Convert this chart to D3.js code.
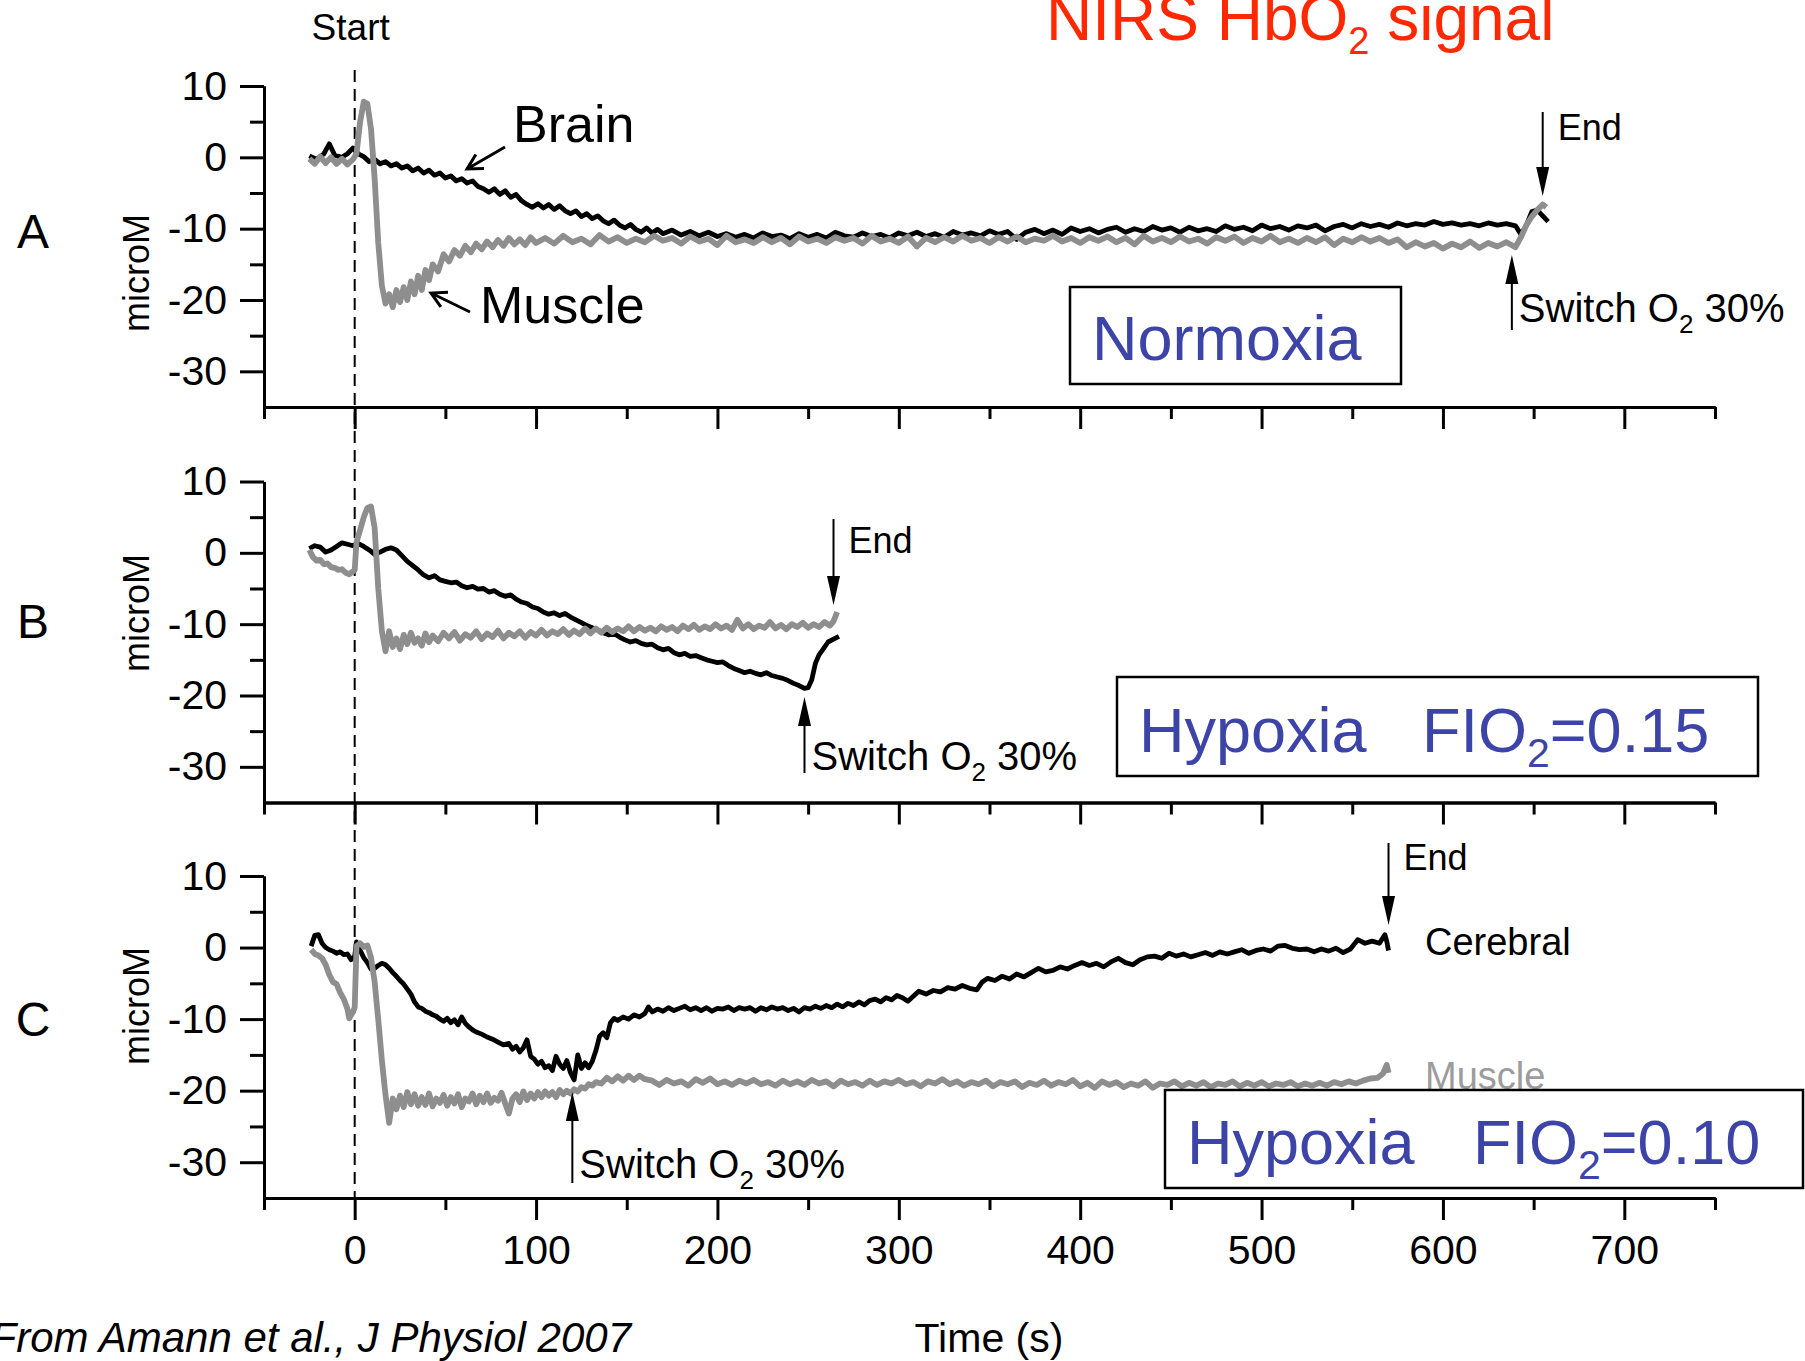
<!DOCTYPE html>
<html>
<head>
<meta charset="utf-8">
<script src="https://cdn.jsdelivr.net/npm/d3@7"></script>
<style>
body { margin: 0; background: #fff; }
text { font-family: 'Liberation Sans', Arial, Helvetica, sans-serif; }
</style>
</head>
<body>
<script>
// TICKS
const xMajor = [0, 100, 200, 300, 400, 500, 600, 700];
const xMinor = [-50, 50, 150, 250, 350, 450, 550, 650, 750];
const yMajor = [10, 0, -10, -20, -30];
const yMinor = [5, -5, -15, -25];

// PANEL A - NORMOXIA  [time (s), microM]
const brainA = [[-25,0.2],[-21,-0.3],[-17,0.5],[-14,1.9],[-11,0.3],[-7,0.0],[-4,0.5],[-1,1.3],[2,0.5],[5,0.1],[8,-0.6],[11,-0.3],[14,-0.9],[17,-0.6],[20,-1.2],[23,-0.9],[26,-1.5],[29,-1.2],[32,-1.9],[35,-1.5],[38,-2.2],[41,-1.8],[44,-2.5],[47,-2.2],[50,-2.9],[53,-2.6],[56,-3.3],[59,-3.0],[62,-3.6],[65,-3.3],[68,-4.1],[71,-4.4],[74,-4.9],[77,-4.4],[80,-5.2],[83,-4.7],[86,-5.6],[89,-5.2],[92,-6.1],[95,-6.6],[98,-7.0],[101,-6.5],[104,-7.1],[107,-6.6],[110,-7.3],[113,-6.8],[116,-7.5],[119,-7.9],[122,-7.5],[125,-8.3],[128,-7.9],[131,-8.6],[134,-8.2],[137,-8.9],[140,-9.3],[143,-8.8],[146,-9.5],[149,-9.9],[152,-9.4],[155,-10.1],[158,-10.5],[161,-9.9],[164,-10.6],[167,-10.1],[170,-10.7],[175,-10.2],[180,-10.9],[185,-10.4],[190,-11.0],[195,-10.5],[200,-11.1],
  [205,-10.7],[210,-11.2],[215,-10.8],[220,-11.3],[225,-10.6],[230,-11.1],[235,-10.9],[240,-11.4],[245,-10.7],[250,-11.2],[255,-10.8],[260,-11.3],[265,-10.5],[270,-11.0],[275,-11.2],[280,-10.6],[285,-11.1],[290,-10.8],[295,-11.3],[300,-10.6],[305,-11.0],[310,-10.5],[315,-11.1],[320,-10.7],[325,-11.2],[330,-10.4],[335,-10.9],[340,-10.6],[345,-11.0],[350,-10.3],[355,-10.8],[360,-10.4],[365,-11.5],[370,-10.5],[375,-10.1],[380,-10.7],[385,-10.2],[390,-10.8],[395,-9.9],[400,-10.4],[405,-10.0],[410,-10.6],[415,-10.1],[420,-9.8],[425,-10.5],[430,-10.0],[435,-10.4],[440,-9.7],[445,-10.2],[450,-9.9],[455,-10.5],[460,-9.8],[465,-10.3],[470,-10.0],[475,-10.4],[480,-9.6],[485,-10.1],[490,-9.8],[495,-10.3],[500,-9.5],[505,-10.0],[510,-9.7],[515,-10.2],[520,-9.6],[525,-9.9],[530,-9.5],[535,-10.3],[540,-9.7],[545,-9.4],[550,-9.9],[555,-9.3],[560,-9.7],[565,-9.4],[570,-9.8],[575,-9.2],[580,-9.6],[585,-9.3],[590,-9.5],[595,-9.0],[600,-9.4],[605,-9.2],[610,-9.5],[615,-9.3],[620,-9.6],[625,-9.2],[630,-9.5],[635,-9.3],[640,-9.6],[643,-10.8],[646,-9.5],[649,-7.6],[652,-7.4],[655,-8.2],[658,-9.0]];

const muscleA = [[-25,-0.2],[-22,-0.9],[-19,0.1],[-16,-0.8],[-13,0.0],[-10,-0.9],[-7,-0.2],[-4,-1.0],[-1,-0.3],[1,0.5],[3,5.0],[5,7.8],[7,7.5],[9,4.0],[11,-3.0],[13,-12.0],[15,-18.0],[17,-20.5],[19,-19.2],[21,-21.0],[23,-18.6],[25,-20.3],[27,-18.2],[29,-20.0],[31,-17.4],[33,-19.2],[35,-16.6],[37,-18.6],[39,-15.8],[41,-17.2],[43,-15.0],[46,-16.0],[49,-13.6],[52,-14.6],[55,-13.0],[58,-13.8],[61,-12.4],[64,-13.3],[67,-12.1],[70,-12.9],[73,-11.8],[76,-12.6],[79,-11.6],[82,-12.4],[85,-11.3],[88,-12.2],[91,-11.5],[94,-12.3],[97,-11.2],[100,-12.0],
  [105,-11.3],[110,-12.1],[115,-11.0],[120,-11.9],[125,-11.4],[130,-12.2],[135,-10.9],[140,-11.8],[145,-11.2],[150,-12.0],[155,-11.4],[160,-11.9],[165,-11.0],[170,-11.7],[175,-11.3],[180,-12.1],[185,-11.1],[190,-11.8],[195,-11.4],[200,-12.3],[205,-11.0],[210,-11.9],[215,-11.5],[220,-12.0],[225,-11.2],[230,-11.9],[235,-11.3],[240,-12.2],[245,-11.1],[250,-11.8],[255,-11.4],[260,-12.0],[265,-11.2],[270,-11.7],[275,-11.3],[280,-12.1],[285,-11.0],[290,-11.8],[295,-11.4],[300,-12.0],[305,-11.1],[310,-12.5],[315,-11.3],[320,-11.9],[325,-11.2],[330,-11.8],[335,-11.0],[340,-11.7],[345,-11.3],[350,-12.0],[355,-11.2],[360,-11.8],[365,-11.1],[370,-11.9],[375,-11.4],[380,-11.7],[385,-11.0],[390,-11.8],[395,-11.3],[400,-12.0],[405,-11.2],[410,-11.7],[415,-11.1],[420,-11.9],[425,-11.3],[430,-12.2],[435,-11.0],[440,-11.8],[445,-11.3],[450,-11.9],[455,-11.1],[460,-11.8],[465,-11.4],[470,-12.1],[475,-11.2],[480,-11.7],[485,-11.1],[490,-12.0],[495,-11.3],[500,-11.8],[505,-11.0],[510,-11.9],[515,-11.4],[520,-12.0],[525,-11.3],[530,-11.9],[535,-11.2],[540,-12.3],[545,-11.4],[550,-11.9],[555,-11.2],[560,-11.8],[565,-11.3],[570,-12.0],[575,-11.5],[580,-12.6],[585,-11.9],[590,-12.5],[595,-12.0],[600,-12.8],[605,-12.1],[610,-12.6],[615,-11.8],[620,-12.7],[625,-12.0],[630,-12.5],[635,-11.9],[640,-12.6],[643,-11.2],[646,-9.5],[649,-8.3],[652,-7.4],[655,-6.6],[657,-7.0]];

// PANEL B - HYPOXIA FIO2 0.15
const brainB = [[-25,0.6],[-22,1.0],[-19,0.8],[-16,0.1],[-13,0.4],[-10,0.9],[-7,1.4],[-4,1.2],[-1,1.0],[2,1.3],[5,0.9],[8,0.4],[11,-0.2],[14,0.1],[17,0.5],[20,0.7],[23,0.4],[26,-0.4],[29,-1.2],[32,-1.8],[35,-2.4],[38,-3.1],[41,-3.5],[44,-3.2],[47,-3.8],[50,-4.0],[53,-4.2],[56,-4.1],[59,-4.6],[62,-4.9],[65,-4.7],[68,-5.1],[71,-5.0],[74,-5.5],[77,-5.3],[80,-5.8],[83,-6.1],[86,-5.9],[89,-6.5],[92,-6.9],[95,-7.1],[98,-7.6],[101,-7.8],[104,-8.3],[107,-8.6],[110,-8.4],[113,-8.8],[116,-8.5],[119,-9.0],[122,-9.4],[125,-9.8],[128,-10.2],[131,-10.5],[134,-10.8],[137,-11.2],[140,-11.5],[143,-11.3],[146,-11.8],[149,-12.2],[152,-12.5],[155,-12.3],[158,-12.7],[161,-12.9],[164,-12.8],[167,-13.3],[170,-13.6],[173,-13.4],[176,-14.0],[179,-14.3],[182,-14.1],[185,-14.5],[188,-14.4],[191,-14.7],[194,-15.0],[197,-15.2],[200,-15.4],[203,-15.3],[206,-15.8],[209,-16.2],[212,-16.5],[215,-16.8],[218,-16.6],[221,-16.9],[224,-17.1],[227,-16.8],[230,-17.2],[233,-17.4],[236,-17.6],[239,-17.9],[242,-18.3],[245,-18.6],[248,-19.0],[250,-18.9],[252,-17.8],[254,-15.5],[256,-14.3],[258,-13.6],[261,-12.5],[264,-12.1],[267,-11.7]];

const muscleB = [[-25,0.4],[-23,-0.6],[-21,-1.1],[-19,-1.0],[-17,-1.6],[-15,-1.5],[-13,-2.0],[-11,-2.1],[-9,-2.4],[-7,-2.3],[-5,-2.8],[-3,-3.0],[-1,-2.6],[0,-2.4],[1,1.5],[3,3.2],[5,5.0],[7,6.3],[9,6.5],[11,3.5],[13,-5.0],[15,-11.0],[17,-13.8],[19,-11.0],[21,-13.2],[23,-12.0],[25,-13.5],[27,-11.5],[29,-12.8],[31,-11.2],[33,-12.6],[35,-12.0],[37,-13.0],[39,-11.3],[41,-12.5],[43,-11.6],[46,-12.4],[49,-11.2],[52,-12.0],[55,-11.1],[58,-12.3],[61,-11.4],[64,-11.9],[67,-11.0],[70,-12.1],[73,-11.3],[76,-11.8],[79,-10.9],[82,-12.0],[85,-11.2],[88,-11.7],[91,-11.0],[94,-11.9],[97,-11.1],[100,-11.6],[103,-10.8],[106,-11.6],[109,-11.0],[112,-11.4],[115,-10.7],[118,-11.5],[121,-10.9],[124,-11.4],[127,-10.6],[130,-11.3],[133,-10.6],[136,-11.2],[139,-10.5],[142,-11.1],[145,-10.6],[148,-11.0],[151,-10.3],[154,-11.0],[157,-10.4],[160,-10.9],[163,-10.5],[166,-11.0],[169,-10.3],[172,-10.8],[175,-10.4],[178,-11.0],[181,-10.2],[184,-10.7],[187,-10.1],[190,-10.8],[193,-10.3],[196,-10.7],[199,-10.0],[202,-10.6],[205,-10.2],[208,-10.8],[211,-9.4],[214,-10.6],[217,-10.0],[220,-10.7],[223,-10.2],[226,-10.5],[229,-9.7],[232,-10.6],[235,-10.1],[238,-10.7],[241,-10.0],[244,-10.4],[247,-9.8],[250,-10.5],[253,-10.0],[256,-10.4],[259,-9.7],[262,-10.2],[264,-9.6],[266,-8.3]];

// PANEL C - HYPOXIA FIO2 0.10
const brainC = [[-24,0.2],[-22,1.7],[-20,1.8],[-18,0.6],[-16,0.0],[-14,-0.3],[-12,-0.5],[-10,-0.8],[-8,-0.6],[-6,-1.0],[-4,-0.9],[-2,-1.7],[0,-1.2],[1,0.8],[3,-0.4],[5,-1.4],[7,-2.1],[9,-3.0],[11,-2.9],[13,-2.5],[15,-2.2],[17,-2.4],[19,-2.9],[21,-3.5],[23,-4.0],[25,-4.6],[27,-5.1],[29,-5.8],[31,-6.5],[33,-7.6],[35,-8.3],[37,-8.5],[39,-8.9],[41,-9.1],[43,-9.4],[45,-9.6],[47,-10.0],[49,-10.3],[51,-9.9],[53,-10.5],[55,-10.1],[57,-10.8],[59,-9.7],[61,-10.6],[63,-11.1],[65,-11.5],[67,-11.8],[70,-12.1],[73,-12.5],[76,-12.8],[79,-13.2],[82,-13.6],[85,-13.4],[87,-14.2],[89,-13.8],[91,-14.6],[93,-14.0],[95,-12.9],[97,-15.2],[99,-15.6],[101,-16.3],[103,-15.9],[105,-16.8],[107,-16.5],[109,-17.2],[111,-15.2],[113,-16.3],[115,-16.9],[117,-15.8],[119,-17.5],[121,-18.5],[123,-15.0],[125,-16.9],[127,-16.1],[129,-16.8],[131,-15.9],[133,-14.4],[135,-12.4],[137,-11.9],[139,-12.6],[141,-10.5],[143,-9.9],[145,-10.2],[148,-9.7],[151,-10.0],[154,-9.4],[157,-9.7],[160,-9.2],[162,-8.3],[164,-9.0],[167,-8.6],[170,-8.9],[173,-8.4],[176,-8.8],[179,-8.5],[182,-8.2],[185,-8.7],[188,-8.4],[191,-8.8],[194,-8.4],[197,-8.9],[200,-8.5],[203,-8.6],[206,-8.3],[209,-8.8],[212,-8.4],[215,-8.6],[218,-8.4],[221,-8.9],[224,-8.4],[227,-8.7],[230,-8.3],[233,-8.6],[236,-8.4],[239,-8.8],[242,-8.5],[245,-9.0],[248,-8.4],[251,-8.6],[254,-8.2],[257,-8.5],[260,-8.1],[263,-8.4],[266,-7.9],[269,-8.3],[272,-7.8],[275,-8.1],[278,-7.6],[281,-8.0],[284,-7.4],[287,-7.2],[290,-7.6],[293,-7.0],[296,-7.3],[299,-6.7],[302,-7.0],[305,-7.5],[308,-6.8],[311,-6.1],[315,-6.5],[319,-6.0],[323,-6.2],[327,-5.6],[331,-5.8],[335,-5.3],[339,-5.7],[343,-5.9],[346,-4.8],[349,-4.3],[353,-4.6],[357,-4.0],[361,-4.4],[365,-3.7],[369,-4.1],[373,-3.5],[377,-2.9],[381,-3.4],[385,-3.2],[389,-2.7],[393,-3.0],[397,-2.5],[401,-2.1],[405,-2.5],[409,-2.2],[413,-2.7],[417,-2.0],[421,-1.5],[425,-2.1],[429,-2.4],[433,-1.7],[437,-1.3],[441,-1.2],[445,-1.5],[449,-0.8],[453,-1.2],[457,-0.9],[461,-1.3],[465,-1.0],[469,-0.7],[473,-1.1],[477,-0.6],[481,-0.9],[485,-0.6],[489,-0.3],[493,-0.8],[497,-0.4],[501,-0.2],[505,-0.5],[509,0.2],[513,0.3],[517,-0.1],[521,-0.3],[525,-0.2],[529,-0.6],[533,-0.2],[537,-0.5],[541,-0.1],[545,-0.7],[549,-0.2],[553,1.1],[557,0.6],[561,0.9],[565,0.6],[568,1.8],[569,0.9],[570,-0.4]];

const muscleC = [[-24,-0.3],[-22,-0.9],[-20,-1.1],[-18,-1.5],[-16,-2.4],[-14,-3.8],[-12,-4.8],[-10,-5.1],[-8,-6.3],[-6,-7.2],[-4,-8.6],[-3,-9.9],[-1,-9.0],[0,-8.4],[1,0.2],[3,0.6],[5,0.1],[7,0.3],[9,-1.4],[11,-4.8],[13,-10.1],[15,-15.8],[17,-20.6],[19,-24.5],[21,-21.1],[23,-22.6],[25,-20.7],[27,-22.3],[29,-20.2],[31,-21.9],[33,-20.5],[35,-22.1],[37,-20.9],[39,-22.0],[41,-20.4],[43,-22.2],[45,-21.1],[47,-21.7],[49,-20.6],[51,-22.1],[53,-20.9],[55,-21.8],[57,-20.5],[59,-22.3],[61,-21.1],[63,-21.5],[65,-20.4],[67,-21.9],[69,-20.7],[71,-21.6],[73,-20.4],[75,-21.7],[77,-21.0],[79,-21.4],[81,-20.3],[83,-21.8],[85,-23.2],[87,-21.1],[89,-20.5],[91,-21.6],[93,-20.1],[95,-21.3],[97,-20.4],[99,-21.1],[101,-20.2],[103,-20.9],[105,-20.1],[107,-20.7],[109,-20.2],[111,-20.9],[113,-19.9],[115,-20.5],[117,-20.0],[119,-20.4],[121,-19.8],[123,-20.1],[125,-19.5],[127,-19.7],[129,-19.1],[131,-19.3],[133,-18.8],[136,-19.0],[139,-18.2],[142,-18.7],[145,-18.0],[148,-18.6],[151,-17.9],[154,-18.5],[157,-17.9],[160,-18.4],
  [164,-18.6],[168,-19.2],[172,-18.5],[176,-19.0],[180,-18.7],[184,-19.3],[188,-18.4],[192,-18.9],[196,-18.3],[200,-19.1],[204,-18.7],[208,-19.2],[212,-18.6],[216,-19.0],[220,-18.5],[224,-19.1],[228,-18.8],[232,-19.3],[236,-18.6],[240,-19.1],[244,-18.7],[248,-19.2],[252,-18.5],[256,-19.0],[260,-18.7],[264,-19.4],[268,-18.6],[272,-19.1],[276,-18.8],[280,-19.3],[284,-18.6],[288,-19.2],[292,-18.7],[296,-19.0],[300,-18.5],[304,-19.1],[308,-18.8],[312,-19.4],[316,-18.7],[320,-19.0],[324,-18.4],[328,-19.1],[332,-18.7],[336,-19.3],[340,-18.8],[344,-19.1],[348,-18.6],[352,-19.4],[356,-18.8],[360,-19.1],[364,-18.7],[368,-19.5],[372,-18.9],[376,-19.2],[380,-18.6],[384,-19.3],[388,-18.8],[392,-19.1],[396,-18.5],[400,-19.4],[404,-18.9],[408,-19.6],[412,-18.7],[416,-19.2],[420,-18.8],[424,-19.5],[428,-19.0],[432,-19.3],[436,-18.7],[440,-19.6],[444,-19.0],[448,-19.2],[452,-18.7],[456,-19.4],[460,-18.9],[464,-19.3],[468,-18.8],[472,-19.5],[476,-19.0],[480,-19.2],[484,-18.7],[488,-19.4],[492,-18.9],[496,-19.3],[500,-18.8],[504,-19.4],[508,-19.0],[512,-19.2],[516,-18.8],[520,-19.4],[524,-19.0],[528,-19.3],[532,-18.9],[536,-19.3],[540,-18.8],[544,-19.1],[548,-18.7],[552,-19.0],[556,-18.6],[560,-18.3],[564,-18.2],[567,-17.6],[569,-16.4],[570,-17.5]];

// EVENT TIMES (s)
const endTimes = [655, 264, 570];
const switchTimes = [638, 248, 120];
const panelLetters = ['A', 'B', 'C'];

// LAYOUT
const width = 1805, height = 1361;
const font = "'Liberation Sans', Arial, sans-serif";
const panels = [
    {top: 86, bottom: 407, brain: brainA, muscle: muscleA, labelY: 273, letterY: 248,
     endTop: 112, endTip: 196, endTextDy: 28, swTip: 255, swTail: 330, swTextY: 322},
    {top: 481.5, bottom: 802.5, brain: brainB, muscle: muscleB, labelY: 613, letterY: 638,
     endTop: 519, endTip: 605, endTextDy: 34, swTip: 697, swTail: 773, swTextY: 770},
    {top: 876, bottom: 1198, brain: brainC, muscle: muscleC, labelY: 1006, letterY: 1036,
     endTop: 843, endTip: 925, endTextDy: 27, swTip: 1092, swTail: 1183, swTextY: 1178}
];

const svg = d3.select('body')
    .append('svg')
    .attr('width', width)
    .attr('height', height)
    .style('display', 'block');

// X SCALE (SHARED)
const x = d3.scaleLinear().domain([-50, 750]).range([264, 1715]);

// ARROW HELPERS
function downArrow(g, xp, y1, y2) {
    g.append('line').attr('x1', xp).attr('x2', xp).attr('y1', y1).attr('y2', y2 - 20)
        .attr('stroke', '#000').attr('stroke-width', 2);
    g.append('path').attr('d', `M${xp - 6.5},${y2 - 29}L${xp + 6.5},${y2 - 29}L${xp},${y2}Z`).attr('fill', '#000');
}
function upArrow(g, xp, yTip, yTail) {
    g.append('line').attr('x1', xp).attr('x2', xp).attr('y1', yTip + 20).attr('y2', yTail)
        .attr('stroke', '#000').attr('stroke-width', 2);
    g.append('path').attr('d', `M${xp - 6.5},${yTip + 29}L${xp + 6.5},${yTip + 29}L${xp},${yTip}Z`).attr('fill', '#000');
}
function openArrow(g, x1, y1, x2, y2) {
    const a = Math.atan2(y1 - y2, x1 - x2), len = 17, sp = 0.5;
    g.append('path')
        .attr('d', `M${x1},${y1}L${x2},${y2}M${x2 + len * Math.cos(a + sp)},${y2 + len * Math.sin(a + sp)}L${x2},${y2}L${x2 + len * Math.cos(a - sp)},${y2 + len * Math.sin(a - sp)}`)
        .attr('fill', 'none').attr('stroke', '#000').attr('stroke-width', 3);
}
function sub2(t, main, fs, shift, rest) {
    t.append('tspan').text(main);
    t.append('tspan').text('2').attr('font-size', fs).attr('dy', shift);
    t.append('tspan').text(rest).attr('dy', -shift);
}

// START DASHED LINE
svg.append('line')
    .attr('x1', x(0)).attr('x2', x(0))
    .attr('y1', 70).attr('y2', 1198)
    .attr('stroke', '#000').attr('stroke-width', 2)
    .attr('stroke-dasharray', '12,7');

svg.append('text').text('Start')
    .attr('x', x(0) - 4).attr('y', 40)
    .attr('text-anchor', 'middle')
    .attr('font-size', 37);

// PANELS
panels.forEach((p, i) => {
    const y = d3.scaleLinear().domain([-35, 10]).range([p.bottom, p.top]);
    const g = svg.append('g');

    // Y AXIS
    const yAx = g.append('g').attr('transform', `translate(${x(-50)},0)`);
    yAx.call(d3.axisLeft(y).tickValues(yMinor).tickSize(14).tickSizeOuter(0).tickFormat(''));
    yAx.append('g').call(d3.axisLeft(y).tickValues(yMajor).tickSize(24).tickSizeOuter(0).tickPadding(13)
        .tickFormat(d => String(d)));

    // X AXIS
    const xAx = g.append('g').attr('transform', `translate(0,${p.bottom})`);
    xAx.call(d3.axisBottom(x).tickValues(xMinor).tickSize(12).tickSizeOuter(0).tickFormat(''));
    xAx.append('g').call(d3.axisBottom(x).tickValues(xMajor).tickSize(22).tickSizeOuter(0).tickPadding(15)
        .tickFormat(i === 2 ? d => String(d) : ''));

    g.selectAll('.domain, .tick line').attr('stroke', '#000').attr('stroke-width', 3);
    g.selectAll('.tick text').attr('font-family', font).attr('font-size', 41).attr('fill', '#000');

    // Y LABEL
    g.append('text').text('microM')
        .attr('transform', `translate(149,${p.labelY})rotate(-90)`)
        .attr('text-anchor', 'middle')
        .attr('font-size', 36);

    // PANEL LETTER
    g.append('text').text(panelLetters[i])
        .attr('x', 33).attr('y', p.letterY)
        .attr('text-anchor', 'middle')
        .attr('font-size', 48);

    // LINES
    const line = d3.line().x(d => x(d[0])).y(d => y(d[1]));
    g.append('path').datum(p.brain).attr('d', line)
        .attr('fill', 'none').attr('stroke', '#000').attr('stroke-width', 4.8)
        .attr('stroke-linejoin', 'round');
    g.append('path').datum(p.muscle).attr('d', line)
        .attr('fill', 'none').attr('stroke', '#8e8e8e').attr('stroke-width', 5.8)
        .attr('stroke-linejoin', 'round');

    // END ARROW
    const ex = x(endTimes[i]);
    downArrow(g, ex, p.endTop, p.endTip);
    g.append('text').text('End')
        .attr('x', ex + 15).attr('y', p.endTop + p.endTextDy)
        .attr('font-size', 36);

    // SWITCH ARROW
    const sx = x(switchTimes[i]);
    upArrow(g, sx, p.swTip, p.swTail);
    sub2(g.append('text').attr('x', sx + 7).attr('y', p.swTextY).attr('font-size', 40),
        'Switch O', 26, 11, ' 30%');
});

// PANEL A LABELS
svg.append('text').text('Brain').attr('x', 513).attr('y', 142).attr('font-size', 52);
svg.append('text').text('Muscle').attr('x', 480).attr('y', 323).attr('font-size', 52);
openArrow(svg, 505, 147, 467, 169);
openArrow(svg, 470, 312, 431, 293);

// PANEL C LABELS
svg.append('text').text('Cerebral').attr('x', 1425).attr('y', 955).attr('font-size', 38);
svg.append('text').text('Muscle').attr('x', 1425).attr('y', 1089).attr('font-size', 38).attr('fill', '#9c9c9c');

// CONDITION BOXES
const blue = '#3d44a8';
function condBox(x0, y0, x1, y1) {
    svg.append('rect').attr('x', x0).attr('y', y0).attr('width', x1 - x0).attr('height', y1 - y0)
        .attr('fill', '#fff').attr('stroke', '#000').attr('stroke-width', 2.5);
}
condBox(1070, 287, 1401, 384);
svg.append('text').text('Normoxia').attr('x', 1092).attr('y', 360).attr('font-size', 63).attr('fill', blue);

condBox(1117, 677, 1758, 776);
svg.append('text').text('Hypoxia').attr('x', 1139).attr('y', 752).attr('font-size', 63).attr('fill', blue);
sub2(svg.append('text').attr('x', 1422).attr('y', 752).attr('font-size', 63).attr('fill', blue),
    'FIO', 41, 15, '=0.15');

condBox(1165, 1090, 1803, 1188);
svg.append('text').text('Hypoxia').attr('x', 1187).attr('y', 1164).attr('font-size', 63).attr('fill', blue);
sub2(svg.append('text').attr('x', 1473).attr('y', 1164).attr('font-size', 63).attr('fill', blue),
    'FIO', 41, 15, '=0.10');

// TITLE
sub2(svg.append('text').attr('x', 1046).attr('y', 40).attr('font-size', 64).attr('fill', '#ff2800'),
    'NIRS HbO', 38, 14, ' signal');

// FOOTER
svg.append('text').text('Time (s)')
    .attr('x', 989).attr('y', 1352)
    .attr('text-anchor', 'middle')
    .attr('font-size', 41);
svg.append('text').text('From Amann et al., J Physiol 2007')
    .attr('x', 631).attr('y', 1352)
    .attr('text-anchor', 'end')
    .attr('font-style', 'italic')
    .attr('font-size', 42);
</script>
</body>
</html>
